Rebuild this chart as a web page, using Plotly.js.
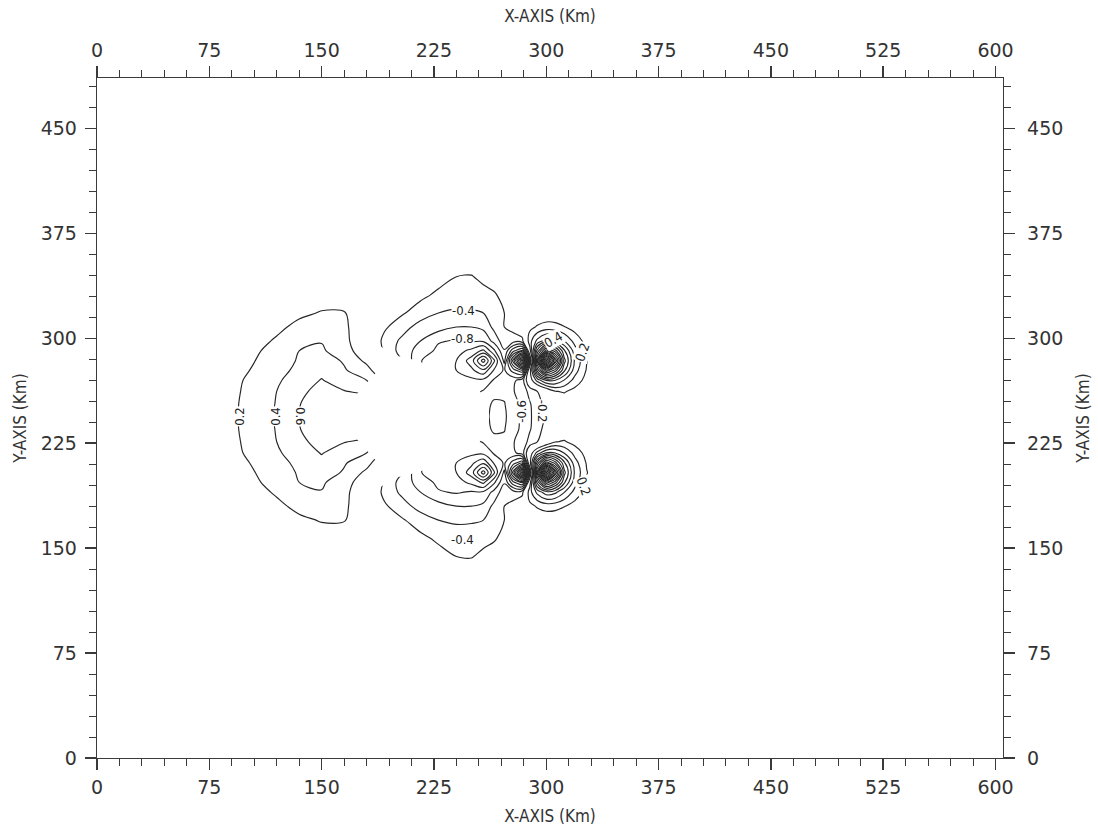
<!DOCTYPE html>
<html>
<head>
<meta charset="utf-8">
<script src="https://cdn.plot.ly/plotly-3.0.1.min.js"></script>
<style>
  html, body { margin: 0; padding: 0; background: #ffffff; }
  #chart { width: 1098px; height: 832px; }
</style>
</head>
<body>
<div id="chart"></div>
<script>
// Grid nodes (km)
const xKm = [60, 75, 90, 105, 120, 135, 150, 165, 180, 192, 204, 216, 228, 240, 250, 258, 265, 272, 278, 284, 289, 294, 300, 306, 312, 319, 327, 336, 347, 360];
const yKm = [115, 130, 144, 157, 170, 180, 190, 197, 204, 211, 218, 226, 235, 244, 253, 262, 270, 277, 284, 291, 298, 308, 318, 331, 344, 358, 373];

// Field values estimated from the contour picture (one row per yKm value, bottom to top)
const zField = [
  [0,0,0,0,0,0,0.01,0.01,0,0, 0,0,-0.01,-0.02,-0.02,-0.02,-0.01,0,0,0, 0,0,0,0,0,0,0,0,0,0],
  [0,0,0,0,0,0.01,0.03,0.03,0.02,0, 0,-0.02,-0.04,-0.08,-0.08,-0.07,-0.05,-0.03,-0.01,0, 0,0,0,0,0,0,0,0,0,0],
  [0,0,0,0.01,0.02,0.04,0.07,0.07,0.05,-0.02, -0.03,-0.06,-0.12,-0.20,-0.21,-0.16,-0.12,-0.08,-0.02,0, 0,0,0,0,0,0,0,0,0,0],
  [0,0,0.01,0.025,0.06,0.09,0.13,0.12,0.08,-0.05, -0.08,-0.15,-0.24,-0.30,-0.31,-0.25,-0.22,-0.15,-0.04,0, 0,0,0,0,0,0,0,0,0,0],
  [0,0,0.025,0.065,0.12,0.17,0.21,0.21,0.08,-0.10, -0.18,-0.30,-0.40,-0.43,-0.42,-0.40,-0.30,-0.20,-0.06,0.03, 0.05,0.06,0.06,0.05,0.04,0.02,0,0,0,0],
  [0,0.01,0.04,0.10,0.165,0.24,0.30,0.23,0.08,-0.17, -0.32,-0.48,-0.52,-0.60,-0.60,-0.55,-0.35,-0.20,-0.12,-0.05, 0.15,0.22,0.28,0.27,0.21,0.12,0.04,0,0,0],
  [0,0.025,0.07,0.145,0.22,0.34,0.39,0.25,0.05,-0.26, -0.45,-0.60,-0.78,-0.82,-0.78,-0.77,-0.54,-0.28,-0.32,-0.25, 0.32,0.66,0.92,0.85,0.61,0.33,0.12,0.01,0,0],
  [0,0.035,0.085,0.17,0.27,0.40,0.43,0.28,0.08,-0.22, -0.50,-0.68,-0.85,-0.92,-1.05,-1.25,-0.85,-0.42,-0.95,-1.25, 0.09,1.27,2.13,1.70,1.04,0.49,0.18,0.03,0,0],
  [0,0.04,0.11,0.195,0.30,0.42,0.49,0.38,0.15,-0.12, -0.40,-0.79,-0.92,-1.0,-1.3,-1.9,-1.25,-0.53,-1.7,-2.9, -0.62,1.85,3.92,2.59,1.27,0.575,0.21,0.04,0,0],
  [0.01,0.05,0.125,0.22,0.33,0.45,0.55,0.42,0.28,0.0, -0.28,-0.75,-0.95,-1.0,-1.15,-1.35,-0.98,-0.77,-1.1,-1.35, 0.09,1.27,2.13,1.70,1.04,0.49,0.18,0.03,0,0],
  [0.01,0.055,0.14,0.26,0.37,0.50,0.61,0.50,0.40,0.15, -0.15,-0.60,-0.85,-0.97,-0.95,-0.95,-0.78,-0.60,-0.65,-0.50, 0.06,0.48,0.82,0.80,0.59,0.33,0.12,0.01,0,0],
  [0.01,0.065,0.155,0.27,0.40,0.545,0.68,0.61,0.55,0.30, -0.05,-0.40,-0.70,-0.85,-0.88,-0.78,-0.74,-0.76,-0.61,-0.52, -0.33,-0.20,-0.04,0.19,0.22,0.13,0.05,0.01,0,0],
  [0.015,0.07,0.16,0.29,0.41,0.59,0.74,0.75,0.70,0.45, 0.10,-0.25,-0.55,-0.70,-0.75,-0.72,-0.83,-0.81,-0.68,-0.55, -0.42,-0.28,-0.12,0.0,0.04,0.04,0.02,0,0,0],
  [0.02,0.07,0.165,0.29,0.42,0.60,0.74,0.75,0.72,0.50, 0.15,-0.2,-0.45,-0.6,-0.68,-0.72,-0.86,-0.83,-0.70,-0.55, -0.43,-0.30,-0.17,-0.08,-0.03,0,0,0,0,0],
  [0.015,0.07,0.16,0.29,0.41,0.59,0.74,0.75,0.70,0.45, 0.10,-0.25,-0.55,-0.70,-0.75,-0.72,-0.83,-0.81,-0.68,-0.55, -0.42,-0.28,-0.12,0.0,0.04,0.04,0.02,0,0,0],
  [0.01,0.065,0.155,0.27,0.40,0.545,0.68,0.61,0.55,0.30, -0.05,-0.40,-0.70,-0.85,-0.88,-0.78,-0.74,-0.76,-0.61,-0.52, -0.33,-0.20,-0.04,0.19,0.22,0.13,0.05,0.01,0,0],
  [0.01,0.055,0.14,0.26,0.37,0.50,0.61,0.50,0.40,0.15, -0.15,-0.60,-0.85,-0.97,-0.95,-0.95,-0.78,-0.60,-0.65,-0.50, 0.06,0.48,0.82,0.80,0.59,0.33,0.12,0.01,0,0],
  [0.01,0.05,0.125,0.22,0.33,0.45,0.55,0.42,0.28,0.0, -0.28,-0.75,-0.95,-1.0,-1.15,-1.35,-0.98,-0.77,-1.1,-1.35, 0.09,1.27,2.13,1.70,1.04,0.49,0.18,0.03,0,0],
  [0,0.04,0.11,0.195,0.30,0.42,0.49,0.38,0.15,-0.12, -0.40,-0.79,-0.92,-1.0,-1.3,-1.9,-1.25,-0.53,-1.7,-2.9, -0.62,1.85,3.92,2.59,1.27,0.575,0.21,0.04,0,0],
  [0,0.035,0.085,0.17,0.27,0.40,0.43,0.28,0.08,-0.22, -0.50,-0.68,-0.85,-0.92,-1.05,-1.25,-0.85,-0.42,-0.95,-1.25, 0.09,1.27,2.13,1.70,1.04,0.49,0.18,0.03,0,0],
  [0,0.025,0.07,0.145,0.22,0.34,0.39,0.25,0.05,-0.26, -0.45,-0.60,-0.78,-0.82,-0.78,-0.77,-0.54,-0.28,-0.32,-0.25, 0.32,0.66,0.92,0.85,0.61,0.33,0.12,0.01,0,0],
  [0,0.01,0.04,0.10,0.165,0.24,0.30,0.23,0.08,-0.17, -0.32,-0.48,-0.52,-0.60,-0.60,-0.55,-0.35,-0.20,-0.12,-0.05, 0.15,0.22,0.28,0.27,0.21,0.12,0.04,0,0,0],
  [0,0,0.025,0.065,0.12,0.17,0.21,0.21,0.08,-0.10, -0.18,-0.30,-0.40,-0.43,-0.42,-0.40,-0.30,-0.20,-0.06,0.03, 0.05,0.06,0.06,0.05,0.04,0.02,0,0,0,0],
  [0,0,0.01,0.025,0.06,0.09,0.13,0.12,0.08,-0.05, -0.08,-0.15,-0.24,-0.30,-0.31,-0.25,-0.22,-0.15,-0.04,0, 0,0,0,0,0,0,0,0,0,0],
  [0,0,0,0.01,0.02,0.04,0.07,0.07,0.05,-0.02, -0.03,-0.06,-0.12,-0.20,-0.21,-0.16,-0.12,-0.08,-0.02,0, 0,0,0,0,0,0,0,0,0,0],
  [0,0,0,0,0,0.01,0.03,0.03,0.02,0, 0,-0.02,-0.04,-0.08,-0.08,-0.07,-0.05,-0.03,-0.01,0, 0,0,0,0,0,0,0,0,0,0],
  [0,0,0,0,0,0,0.01,0.01,0,0, 0,0,-0.01,-0.02,-0.02,-0.02,-0.01,0,0,0, 0,0,0,0,0,0,0,0,0,0]
];

// Outline of the blank (no-data) region in the middle, km
const blankX = [171,171,180,186,187,190,197,207,216,236,250,261,262,261,250,236,216,207,197,190,187,186,180,171];
const blankY = [244,257,268,275,290,294,288,286,283,276,267,257,244,231,221,212,205,202,200,194,198,213,220,231];

// Contour labels
const labelText  = ["0.2", "0.4", "0.6", "-0.4", "-0.8", "0.4", "0.2", "-0.6", "-0.2", "0.2", "-0.4"];
const labelX     = [95, 119, 136, 245, 244, 305, 324, 283, 298, 325, 244];
const labelY     = [244, 244, 244, 320, 300, 299, 290, 248, 248, 194, 156];
const labelAngle = [-90, -90, 90, 0, 0, -30, -70, -90, 90, 70, 0];

// Axis ticks
const majorTicks = [0, 75, 150, 225, 300, 375, 450, 525, 600];
const xRange = [0, 605];
const yRange = [0, 486];

const lineColor = '#262626';
const axisColor = '#3a3a3a';
const tickFam = '"DejaVu Sans", Verdana, sans-serif';
const titleFam = '"Liberation Sans Narrow", "DejaVu Sans Condensed", "Liberation Sans", Arial, sans-serif';
const labelFam = '"DejaVu Sans Condensed", "Liberation Sans", Arial, sans-serif';

const contourBase = {
  type: 'contour',
  x: xKm, y: yKm, z: zField,
  autocontour: false,
  showscale: false,
  hoverinfo: 'skip',
  line: { color: lineColor, width: 1.15, smoothing: 1 },
  colorscale: [[0, '#000'], [1, '#000']]
};

const posTrace = Object.assign({}, contourBase, {
  contours: { start: 0.2, end: 4.0, size: 0.2, coloring: 'none', showlabels: false }
});
const negTrace = Object.assign({}, contourBase, {
  contours: { start: -3.0, end: -0.19, size: 0.2, coloring: 'none', showlabels: false }
});
const frameTrace = {
  type: 'scatter', x: [], y: [], xaxis: 'x2', yaxis: 'y2',
  hoverinfo: 'skip', showlegend: false
};

let blankPath = 'M' + blankX[0] + ',' + blankY[0];
for (let i = 1; i < blankX.length; i++) blankPath += ' L' + blankX[i] + ',' + blankY[i];
blankPath += ' Z';

const annotations = labelText.map((t, i) => ({
  x: labelX[i], y: labelY[i], xref: 'x', yref: 'y',
  text: t, showarrow: false, textangle: labelAngle[i],
  font: { family: labelFam, size: 13, color: '#222' },
  bgcolor: '#ffffff', borderpad: 0
}));

function axisCommon(extra) {
  return Object.assign({
    showline: true, linecolor: axisColor, linewidth: 1.3,
    showgrid: false, zeroline: false,
    ticks: 'outside', ticklen: 11, tickwidth: 1.5, tickcolor: axisColor,
    tickmode: 'array', tickvals: majorTicks,
    minor: { dtick: 15, tick0: 0, ticks: 'outside', ticklen: 7, tickwidth: 1, tickcolor: axisColor, showgrid: false },
    tickfont: { family: tickFam, size: 19, color: '#333' },
    fixedrange: true
  }, extra);
}

const titleFont = { family: titleFam, size: 17, color: '#333' };

const layout = {
  width: 1098, height: 832,
  margin: { l: 97, r: 95, t: 78, b: 74 },
  paper_bgcolor: '#ffffff', plot_bgcolor: '#ffffff',
  showlegend: false,
  xaxis: axisCommon({
    range: xRange, side: 'bottom', ticklabelstandoff: 1,
    title: { text: 'X-AXIS (Km)', font: titleFont, standoff: 13 }
  }),
  xaxis2: axisCommon({
    range: xRange, side: 'top', overlaying: 'x', anchor: 'y', ticklabelstandoff: 1,
    title: { text: 'X-AXIS (Km)', font: titleFont, standoff: 12 }
  }),
  yaxis: axisCommon({
    range: yRange, side: 'left', tickvals: majorTicks.slice(0, 7), ticklabelstandoff: 4,
    title: { text: 'Y-AXIS (Km)', font: titleFont, standoff: 9 }
  }),
  yaxis2: axisCommon({
    range: yRange, side: 'right', overlaying: 'y', anchor: 'x', tickvals: majorTicks.slice(0, 7), ticklabelstandoff: 8,
    title: { text: 'Y-AXIS (Km)', font: titleFont, standoff: 14 }
  }),
  shapes: [{
    type: 'path', xref: 'x', yref: 'y', path: blankPath,
    fillcolor: '#ffffff', line: { width: 0 }, layer: 'above'
  }],
  annotations: annotations
};

Plotly.newPlot('chart', [posTrace, negTrace, frameTrace], layout, { staticPlot: true, displayModeBar: false });
</script>
</body>
</html>
